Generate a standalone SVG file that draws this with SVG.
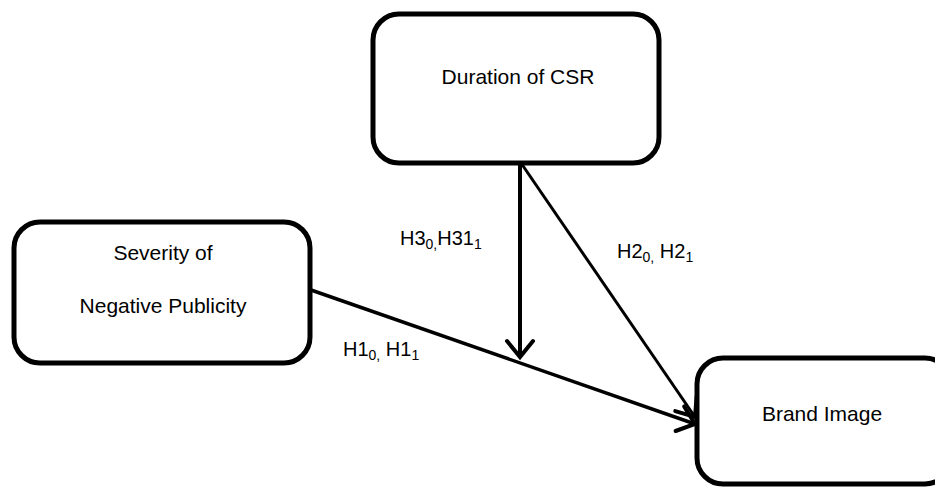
<svg xmlns="http://www.w3.org/2000/svg" width="935" height="487" viewBox="0 0 935 487">
<style>
.box{fill:#fff;stroke:#000;stroke-width:5}
.lbl{font-family:"Liberation Sans",Arial,sans-serif;font-size:21px;fill:#000;text-anchor:middle}
.hl{font-family:"Liberation Sans",Arial,sans-serif;font-size:20px;fill:#000}
.conn{stroke:#000;fill:none}
</style>
<defs>
<marker id="ah" markerUnits="userSpaceOnUse" markerWidth="40" markerHeight="40" viewBox="-20 -20 40 40" refX="0" refY="0" orient="auto">
<path d="M-16,-13 L0,0 L-16,13" fill="none" stroke="#000" stroke-width="4" stroke-linecap="round" stroke-linejoin="miter"/>
</marker>
</defs>
<g id="connectors">
<path class="conn" stroke-width="4" d="M520,163 L520,357" marker-end="url(#ah)"/>
<path class="conn" stroke-width="3" d="M521,163 L695,417" marker-end="url(#ah)"/>
<path class="conn" stroke-width="3.5" d="M311,290 L695,424" marker-end="url(#ah)"/>
</g>
<g id="duration">
<rect class="box" x="373" y="14" width="286" height="149" rx="26"/>
<text class="lbl" x="518" y="84">Duration of CSR</text>
</g>
<g id="severity">
<rect class="box" x="14" y="222" width="296" height="141" rx="26"/>
<text class="lbl" x="163" y="260">Severity of</text>
<text class="lbl" x="163" y="313">Negative Publicity</text>
</g>
<g id="brand">
<rect class="box" x="697" y="358" width="254" height="126" rx="26"/>
<text class="lbl" x="822" y="421">Brand Image</text>
</g>
<g id="labels">
<text class="hl" x="400" y="245">H3<tspan font-size="14" dy="4">0,</tspan><tspan dy="-4">H31</tspan><tspan font-size="14" dy="4">1</tspan></text>
<text class="hl" x="617" y="258">H2<tspan font-size="14" dy="4">0,</tspan><tspan dy="-4"> H2</tspan><tspan font-size="14" dy="4">1</tspan></text>
<text class="hl" x="343" y="356">H1<tspan font-size="14" dy="4">0,</tspan><tspan dy="-4"> H1</tspan><tspan font-size="14" dy="4">1</tspan></text>
</g>
</svg>
